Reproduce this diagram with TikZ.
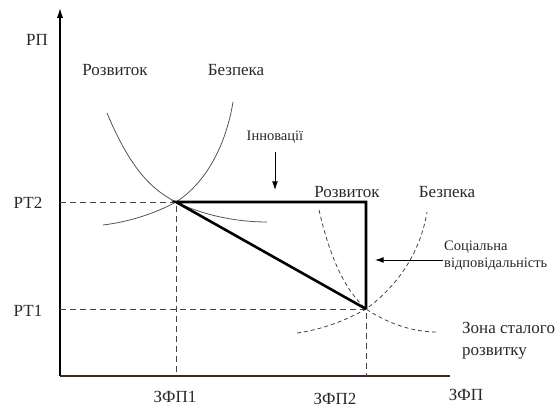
\documentclass[tikz,border=0pt]{standalone}
\usepackage{fontspec}
\setmainfont{Liberation Serif}
\usepackage{xcolor}
\usetikzlibrary{arrows.meta, positioning, calc}

\definecolor{curvegray}{RGB}{85,85,85}
\definecolor{dashgray}{RGB}{55,70,80}
\definecolor{axisbrown}{RGB}{70,35,30}
\definecolor{textgray}{RGB}{40,40,40}

\begin{document}
\begin{tikzpicture}[
    x=1pt, y=-1pt,
    label/.style={font=\fontsize{17}{20}\selectfont, text=textgray, inner sep=1pt},
    smalllabel/.style={font=\fontsize{14.5}{17}\selectfont, text=textgray, inner sep=1pt, align=left},
    curve/.style={draw=curvegray, line width=0.8pt},
    dashcurve/.style={draw=dashgray, line width=0.8pt, dash pattern=on 4pt off 3pt},
    guide/.style={draw=dashgray, line width=0.9pt, dash pattern=on 6pt off 4pt},
    axis/.style={line width=1.3pt},
    path/.style={line width=2.6pt, line join=miter},
    arrow/.style={-{Latex[length=3mm, width=2mm]}, line width=0.8pt}
  ]
  \useasboundingbox (0,0) rectangle (558,409);

  \coordinate (O)    at (60,376);
  \coordinate (ytop) at (60,8);
  \coordinate (xend) at (450,376);
  \coordinate (A)    at (176,202);
  \coordinate (B)    at (366,202);
  \coordinate (C)    at (366,309);

  % axes
  \draw[axis, -{Latex[length=3.5mm, width=2.2mm]}] (O) -- (ytop);
  \draw[axis, draw=axisbrown] (O) -- (xend);

  % guide lines to the axes
  \draw[guide] (O |- A) -- (A) -- (A |- O);
  \draw[guide] (O |- C) -- (C) -- (C |- O);

  % first pair of curves
  \draw[curve] (107,113) .. controls (128,163) and (148,188) .. (A)
               .. controls (205,216) and (238,222) .. (267,222);
  \draw[curve] (103,225) .. controls (128,222) and (154,214) .. (A)
               .. controls (206,183) and (226,145) .. (233,102);
  % second pair of curves, dashed
  \draw[dashcurve] (319,210) .. controls (330,258) and (345,290) .. (C)
                   .. controls (390,325) and (415,332) .. (437,332);
  \draw[dashcurve] (297,333) .. controls (320,330) and (345,321) .. (C)
                   .. controls (395,288) and (420,255) .. (427,212);

  % the development path
  \draw[path] (C) -- (A) -- (B) -- (C);

  % axis labels
  \node[label] (rp)   at (37,40)   {РП};
  \node[label] (rt2)  at (28,203)  {РТ2};
  \node[label] (rt1)  at (28,311)  {РТ1};
  \node[label] (zfp1) at (175,397) {ЗФП1};
  \node[label] (zfp2) at (335,399) {ЗФП2};
  \node[label] (zfp)  at (466,395) {ЗФП};

  % curve labels
  \node[label] (dev1) at (115,70)  {Розвиток};
  \node[label] (sec1) at (236,70)  {Безпека};
  \node[label] (dev2) at (347,192) {Розвиток};
  \node[label] (sec2) at (447,192) {Безпека};

  % influences
  \node[smalllabel] (inn) at (275,137) {Інновації};
  \coordinate (innend) at (inn.south |- 0,190);
  \draw[arrow] ([yshift=-8pt]inn.south) -- (innend);

  \node[smalllabel, anchor=west] (soc) at (443,256) {Соціальна\\відповідальність};
  \coordinate (socend) at (375,260);
  \draw[arrow] (soc.west |- socend) -- (socend);

  \node[label, anchor=west, align=left, font=\fontsize{17}{22}\selectfont]
    (zone) at (461,341) {Зона сталого\\розвитку};
\end{tikzpicture}
\end{document}
